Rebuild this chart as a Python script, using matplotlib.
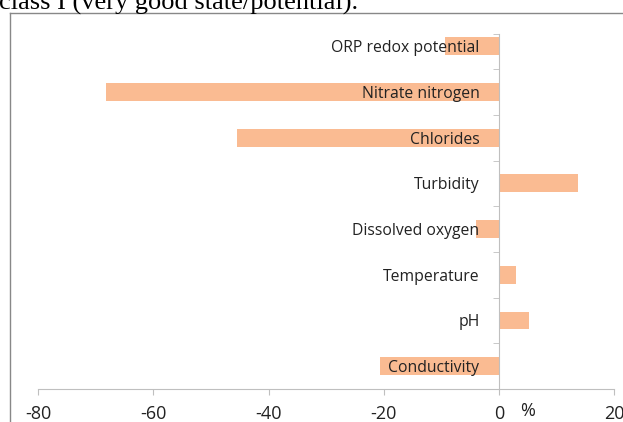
# Gráfico de barras horizontais: variação percentual dos parâmetros
import matplotlib.pyplot as plt
from matplotlib.lines import Line2D

# Dados (de baixo para cima)
parametros = ["Conductivity", "pH", "Temperature", "Dissolved oxygen",
              "Turbidity", "Chlorides", "Nitrate nitrogen", "ORP redox potential"]
variacao = [-20.7, 5.2, 2.9, -4.0, 13.7, -45.4, -68.2, -9.4]
xticks = [-80, -60, -40, -20, 0, 20]

W, H = 623, 422
fig = plt.figure(figsize=(W / 100, H / 100), dpi=100)

# Eixos em pixels
x0, x1 = 38.3, 614.0
y_top, y_bot = 34.0, 389.0
ax = fig.add_axes([x0 / W, 1 - y_bot / H, (x1 - x0) / W, (y_bot - y_top) / H])

pos = list(range(len(parametros)))
ax.barh(pos, variacao, height=0.39, color='#FABB92', zorder=1)

ax.set_xlim(-80, 20)
ax.set_ylim(-0.5, 7.27)

cinza = '#BFBFBF'
for lado in ['top', 'right']:
    ax.spines[lado].set_visible(False)
ax.spines['left'].set_position(('data', 0))
ax.spines['left'].set_color(cinza)
ax.spines['bottom'].set_color(cinza)

ax.set_xticks(xticks)
ax.set_xticklabels([str(v) for v in xticks])
ax.tick_params(axis='x', direction='out', length=4.3, color=cinza, pad=7,
               labelsize=13, labelcolor='#222222')
for lab in ax.get_xticklabels():
    lab.set_family('Open Sans')

ax.set_yticks(pos)
ax.set_yticklabels(parametros)
ax.set_yticks([p + 0.5 for p in pos[:-1]] + [7.27], minor=True)
ax.tick_params(axis='y', which='major', length=0, pad=14, labelsize=11.3,
               labelcolor='#222222')
ax.tick_params(axis='y', which='minor', direction='out', length=4.3, color=cinza)
for lab in ax.get_yticklabels():
    lab.set_family('Open Sans')

# Rótulo da unidade
ax.text(5.0, -0.5 - 13 / 45.7, "%", ha='center', va='top',
        fontsize=13, family='Open Sans', color='#222222')

# Moldura e texto cortado do documento
fig.add_artist(Line2D([10 / W, 1], [1 - 12.5 / H, 1 - 12.5 / H],
                      transform=fig.transFigure, color='#888888', lw=1))
fig.add_artist(Line2D([10 / W, 10 / W], [0, 1 - 12.5 / H],
                      transform=fig.transFigure, color='#888888', lw=1))
fig.text(-1 / W, 1 - 10 / H, "class I (very good state/potential).",
         family='Liberation Serif', fontsize=19, va='baseline', ha='left',
         color='black')

fig.savefig('out.png', dpi=100)
